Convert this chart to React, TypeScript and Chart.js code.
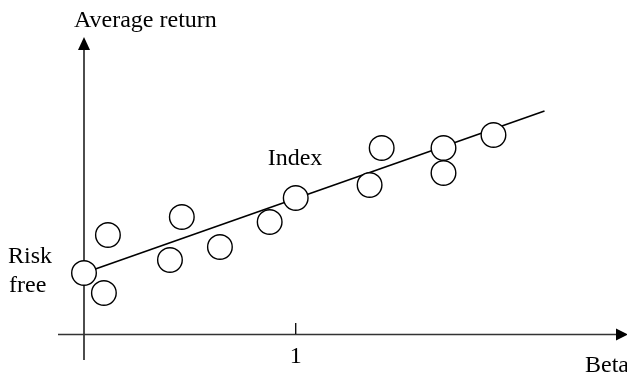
import React, { useEffect, useRef } from "react";
import { Chart, registerables } from "chart.js";

Chart.register(...registerables);

// Beta (x) and average return (y) of the portfolios
const portfolioBeta = [0.113, 0.094, 0.462, 0.406, 0.642, 0.877, 1.406, 1.349, 1.698, 1.698, 1.934];
const portfolioReturn = [4.95, 2.05, 5.85, 3.7, 4.35, 5.6, 9.3, 7.45, 9.3, 8.05, 9.95];

const riskFree = { beta: 0, ret: 3.05 };
const indexPoint = { beta: 1, ret: 6.8 };
const lineEnd = { beta: 2.175, ret: 11.15 };

const xTicks = [1];
const xTickLabels = ["1"];

const FONT = "24px 'Liberation Serif', 'Times New Roman', serif";

const axesPlugin = {
  id: "axesPlugin",
  beforeDatasetsDraw(chart: any) {
    const ctx = chart.ctx;
    const xs = chart.scales.x;
    const ys = chart.scales.y;
    const x0 = xs.getPixelForValue(0);
    const y0 = ys.getPixelForValue(0);
    ctx.save();
    ctx.strokeStyle = "#000";
    ctx.fillStyle = "#000";
    // y axis
    ctx.lineWidth = 1.4;
    ctx.beginPath();
    ctx.moveTo(x0, y0 + 26);
    ctx.lineTo(x0, 46);
    ctx.stroke();
    ctx.beginPath();
    ctx.moveTo(x0, 37);
    ctx.lineTo(x0 - 6, 50);
    ctx.lineTo(x0 + 6, 50);
    ctx.closePath();
    ctx.fill();
    // x axis
    ctx.strokeStyle = "#333";
    ctx.lineWidth = 1.6;
    ctx.beginPath();
    ctx.moveTo(x0 - 26, y0 + 0.5);
    ctx.lineTo(618, y0 + 0.5);
    ctx.stroke();
    ctx.fillStyle = "#000";
    ctx.beginPath();
    ctx.moveTo(628, y0 + 0.5);
    ctx.lineTo(616, y0 - 5.5);
    ctx.lineTo(616, y0 + 6.5);
    ctx.closePath();
    ctx.fill();
    // ticks
    ctx.strokeStyle = "#000";
    ctx.lineWidth = 1.3;
    xTicks.forEach((t) => {
      const px = xs.getPixelForValue(t);
      ctx.beginPath();
      ctx.moveTo(px, y0 - 11);
      ctx.lineTo(px, y0);
      ctx.stroke();
    });
    ctx.restore();
  },
  afterDraw(chart: any) {
    const ctx = chart.ctx;
    const xs = chart.scales.x;
    const ys = chart.scales.y;
    const x0 = xs.getPixelForValue(0);
    const y0 = ys.getPixelForValue(0);
    ctx.save();
    ctx.fillStyle = "#000";
    ctx.font = FONT;
    ctx.textBaseline = "alphabetic";
    ctx.textAlign = "center";
    xTicks.forEach((t, i) => {
      ctx.fillText(xTickLabels[i], xs.getPixelForValue(t), y0 + 29);
    });
    ctx.textAlign = "left";
    ctx.fillText("Average return", x0 - 10, 27);
    ctx.fillText("Beta", 585, 372);
    const iy = ys.getPixelForValue(indexPoint.ret);
    const ix = xs.getPixelForValue(indexPoint.beta);
    ctx.fillText("Index", ix - 28, iy - 33);
    const ry = ys.getPixelForValue(riskFree.ret);
    ctx.fillText("Risk", 8, ry - 10);
    ctx.fillText("free", 9, ry + 19);
    ctx.restore();
  },
};

export default function App() {
  const ref = useRef<HTMLCanvasElement | null>(null);
  useEffect(() => {
    if (!ref.current) return;
    const pts = portfolioBeta.map((b, i) => ({ x: b, y: portfolioReturn[i] }));
    pts.push({ x: riskFree.beta, y: riskFree.ret });
    pts.push({ x: indexPoint.beta, y: indexPoint.ret });
    const chart = new Chart(ref.current, {
      type: "scatter",
      data: {
        datasets: [
          {
            data: pts,
            pointRadius: 12.3,
            pointHoverRadius: 12.3,
            pointBackgroundColor: "#fff",
            pointBorderColor: "#000",
            pointBorderWidth: 1.4,
            showLine: false,
            clip: false,
            order: 0,
          } as any,
          {
            data: [
              { x: riskFree.beta, y: riskFree.ret },
              { x: lineEnd.beta, y: lineEnd.ret },
            ],
            showLine: true,
            borderColor: "#000",
            borderWidth: 1.6,
            pointRadius: 0,
            clip: false,
            order: 1,
          } as any,
        ],
      },
      options: {
        animation: false,
        responsive: false,
        devicePixelRatio: 1,
        layout: { padding: { left: 84, right: 13, top: 54, bottom: 40 } },
        plugins: { legend: { display: false }, tooltip: { enabled: false } },
        events: [],
        scales: {
          x: { type: "linear", min: 0, max: 2.5, display: false },
          y: { type: "linear", min: 0, max: 14, display: false },
        },
      },
      plugins: [axesPlugin],
    });
    return () => chart.destroy();
  }, []);
  return (
    <div style={{ position: "absolute", left: 0, top: 0, width: 627, height: 374, background: "#fff" }}>
      <canvas ref={ref} width={627} height={374} />
    </div>
  );
}
